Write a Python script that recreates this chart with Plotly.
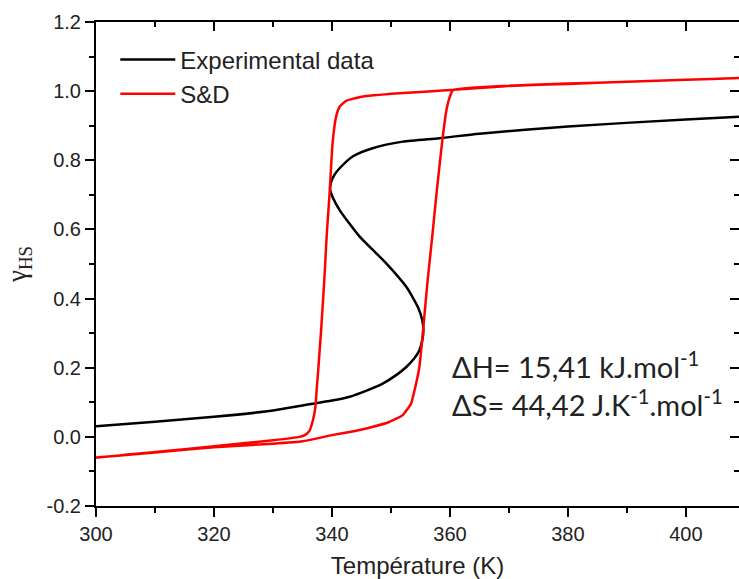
import plotly.graph_objects as go

# Experimental data (black S-shaped curve), read along the path
exp_T = [300, 310, 320, 330, 335, 340, 343, 345, 348.6, 351, 352.6, 354.0, 354.8, 355.3, 355.5,
         355.3, 354.6, 352.6, 349.2, 344.7, 341.3, 340.2, 339.7, 339.9, 340.5, 341.3, 343.5,
         346.9, 352.0, 358.2, 365, 380, 400, 409]
exp_y = [0.031, 0.044, 0.058, 0.076, 0.091, 0.105, 0.116, 0.128, 0.154, 0.18, 0.202, 0.228, 0.250, 0.278, 0.309,
         0.338, 0.374, 0.434, 0.502, 0.579, 0.656, 0.69, 0.715, 0.74, 0.76, 0.777, 0.811,
         0.835, 0.854, 0.864, 0.877, 0.898, 0.918, 0.926]

# S&D model (red hysteresis loop): heating branch then cooling branch
sd_heat_T = [300, 310, 320, 330, 335, 340, 343, 346, 349.7, 352.0, 353.4, 354.0, 354.8, 355.4,
             356.2, 357.0, 357.7, 358.7, 359.4, 360.0, 360.5, 368, 380, 390, 400, 409]
sd_heat_y = [-0.060, -0.045, -0.030, -0.020, -0.013, 0.005, 0.014, 0.025, 0.043, 0.063, 0.096, 0.135, 0.20, 0.30,
             0.45, 0.58, 0.70, 0.857, 0.945, 0.985, 1.003, 1.014, 1.022, 1.027, 1.033, 1.038]
sd_cool_T = [409, 400, 390, 380, 370, 360, 351.4, 345, 342.4, 341.3, 340.7, 340.1, 339.6, 339.1,
             338.7, 338.2, 337.7, 337.4, 337.2, 336.8, 336.2, 335.4, 334.5, 330, 320, 310, 300]
sd_cool_y = [1.038, 1.033, 1.027, 1.021, 1.015, 1.003, 0.994, 0.984, 0.972, 0.955, 0.926, 0.849, 0.705, 0.58,
             0.4535, 0.318, 0.20, 0.135, 0.087, 0.05, 0.018, 0.005, 0.0, -0.01, -0.027, -0.044, -0.060]

x_ticks = [300, 320, 340, 360, 380, 400]
x_ticklabels = ["300", "320", "340", "360", "380", "400"]
y_ticks = [-0.2, 0.0, 0.2, 0.4, 0.6, 0.8, 1.0, 1.2]
y_ticklabels = ["-0.2", "0.0", "0.2", "0.4", "0.6", "0.8", "1.0", "1.2"]

annot_texts = ["ΔH= 15,41 kJ.mol<sup>-1</sup>", "ΔS= 44,42 J.K<sup>-1</sup>.mol<sup>-1</sup>"]
annot_y = [0.207, 0.097]

X_RANGE = [300, 409]
Y_RANGE = [-0.2, 1.2]

fig = go.Figure()
fig.add_trace(go.Scatter(x=exp_T, y=exp_y, mode="lines", name="Experimental data",
                         line=dict(color="black", width=2.5, shape="spline", smoothing=0.6)))
fig.add_trace(go.Scatter(x=sd_heat_T + sd_cool_T, y=sd_heat_y + sd_cool_y, mode="lines", name="S&D",
                         line=dict(color="#ff0000", width=2.5, shape="spline", smoothing=0.4)))
# dummy trace to activate the mirrored (top/right) axes
fig.add_trace(go.Scatter(x=[None], y=[None], xaxis="x2", yaxis="y2", showlegend=False,
                         hoverinfo="skip", mode="lines"))

tickfont = dict(family="Liberation Sans, Arial", size=20, color="#222")
common_x = dict(range=X_RANGE, tickvals=x_ticks, showgrid=False, zeroline=False,
                linecolor="black", linewidth=2, tickcolor="black", tickwidth=2, ticklen=9)
common_y = dict(range=Y_RANGE, tickvals=y_ticks, showgrid=False, zeroline=False,
                linecolor="black", linewidth=2, tickcolor="black", tickwidth=2, ticklen=9)

fig.update_layout(
    width=739, height=579,
    margin=dict(l=96, r=0, t=22, b=73),
    paper_bgcolor="white", plot_bgcolor="white",
    showlegend=True,
    legend=dict(x=0.03, y=0.968, xanchor="left", yanchor="top", bgcolor="rgba(0,0,0,0)",
                itemwidth=55,
                font=dict(family="Liberation Sans, Arial", size=24, color="#222"),
                tracegroupgap=0),
    xaxis=dict(**common_x, ticktext=x_ticklabels, ticks="outside", showline=True,
               tickfont=tickfont,
               minor=dict(dtick=10, ticks="outside", ticklen=5, tickwidth=2, tickcolor="black"),
               title=dict(text="Température (K)", standoff=13,
                          font=dict(family="Liberation Sans, Arial", size=24, color="#222"))),
    yaxis=dict(**common_y, ticktext=y_ticklabels, ticks="outside", showline=True,
               tickfont=tickfont,
               minor=dict(dtick=0.1, ticks="outside", ticklen=5, tickwidth=2, tickcolor="black"),
               title=dict(text="γ<sub>HS</sub>", standoff=12,
                          font=dict(family="Liberation Serif, Times New Roman", size=27, color="#222"))),
    xaxis2=dict(**common_x, overlaying="x", side="top", anchor="y", ticks="inside",
                showline=True, showticklabels=False,
                minor=dict(dtick=10, ticks="inside", ticklen=5, tickwidth=2, tickcolor="black")),
    yaxis2=dict(**common_y, overlaying="y", side="right", anchor="x", ticks="inside",
                showline=True, showticklabels=False,
                minor=dict(dtick=0.1, ticks="inside", ticklen=5, tickwidth=2, tickcolor="black")),
)

for txt, yv in zip(annot_texts, annot_y):
    fig.add_annotation(x=360.0, y=yv, xref="x", yref="y", text=txt, showarrow=False,
                       xanchor="left", yanchor="middle",
                       font=dict(family="Lato, Open Sans", size=29, color="#222"))

fig.write_html("out.html", config={"displayModeBar": False},
               post_script="document.body.style.margin='0px';")
